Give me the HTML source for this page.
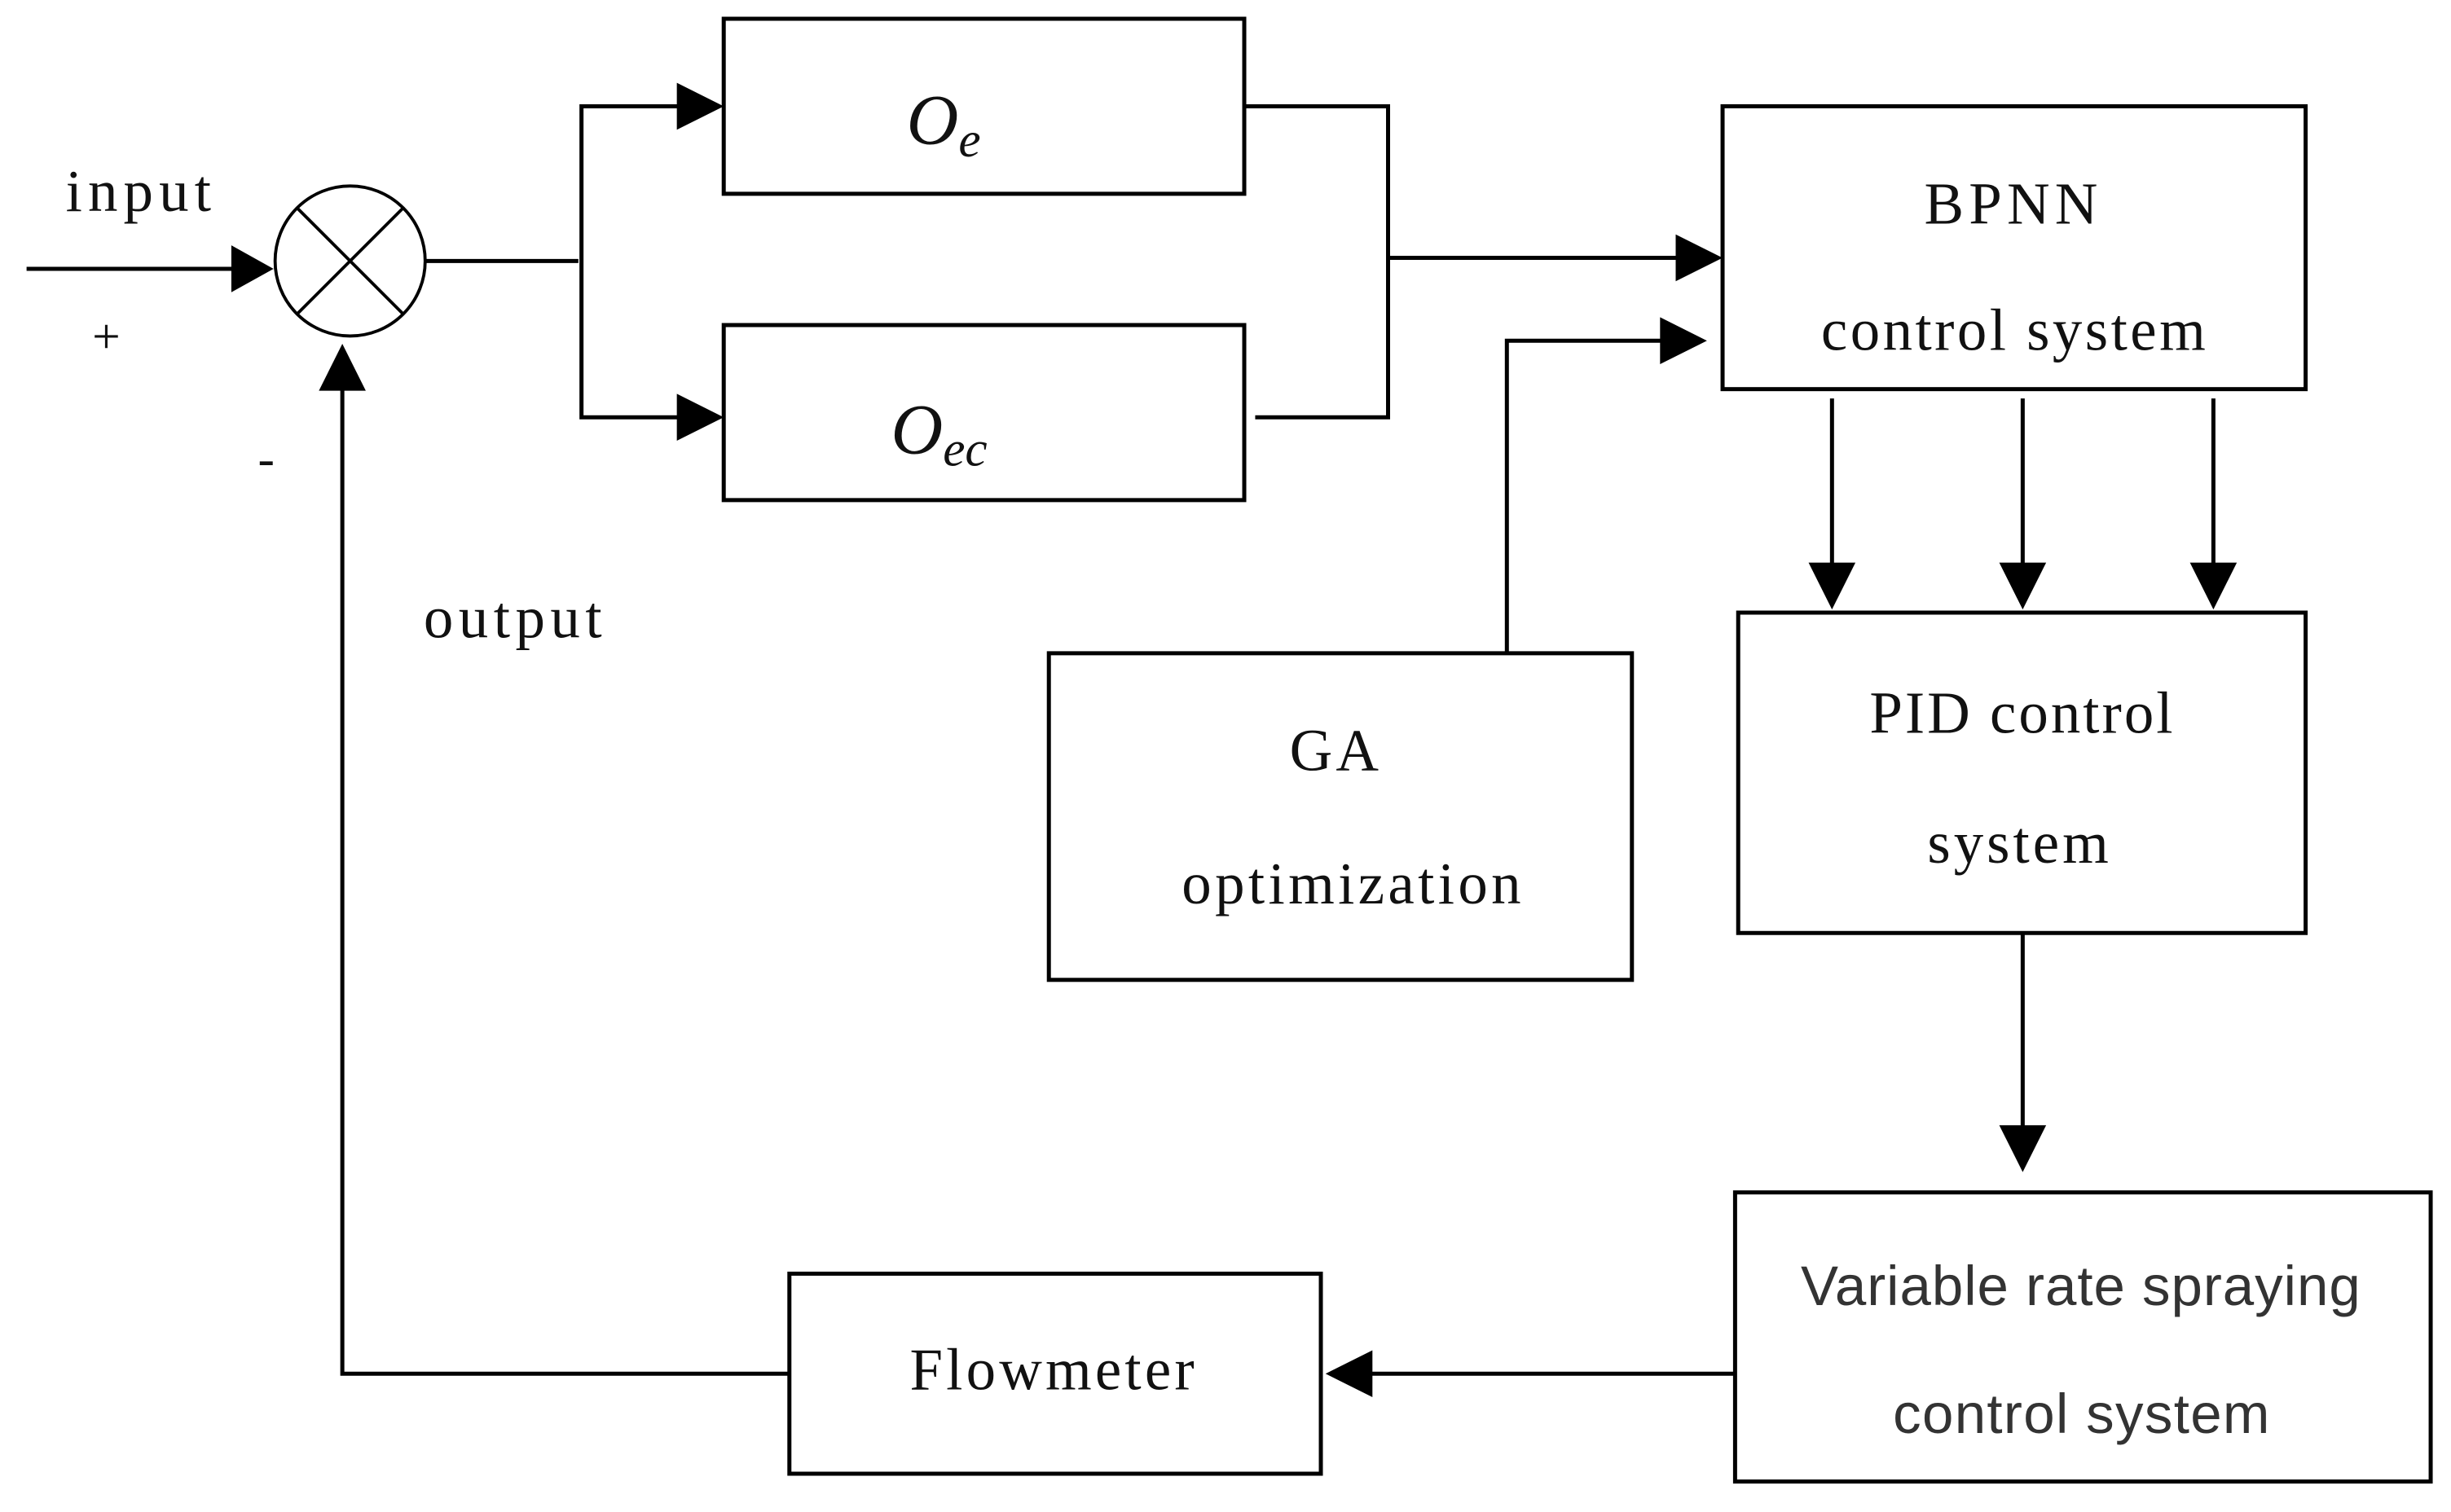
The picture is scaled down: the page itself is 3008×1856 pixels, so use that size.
<!DOCTYPE html>
<html><head><meta charset="utf-8"><style>html,body{margin:0;padding:0;background:#fff}svg{display:block}</style></head>
<body>
<svg width="3008" height="1856" viewBox="0 0 1568 967.5" preserveAspectRatio="none" xmlns="http://www.w3.org/2000/svg">
<g fill="none" stroke="#000" stroke-width="2.6">
<line x1="17" y1="172" x2="150" y2="172"/>
<ellipse cx="224" cy="167" rx="48" ry="48" stroke-width="2"/>
<line x1="190" y1="133" x2="258" y2="201" stroke-width="2"/>
<line x1="258" y1="133" x2="190" y2="201" stroke-width="2"/>
<polyline points="272,167 370,167"/>
<polyline points="435,68 372,68 372,267 435,267"/>
<rect x="463" y="12" width="333" height="112"/>
<rect x="463" y="208" width="333" height="112"/>
<polyline points="796,68 888,68 888,267 803,267"/>
<line x1="888" y1="165" x2="1075" y2="165"/>
<rect x="1102" y="68" width="373" height="181"/>
<polyline points="964,417 964,218 1065,218"/>
<rect x="671" y="418" width="373" height="209"/>
<line x1="1172" y1="255" x2="1172" y2="362"/>
<line x1="1294" y1="255" x2="1294" y2="362"/>
<line x1="1416" y1="255" x2="1416" y2="362"/>
<rect x="1112" y="392" width="363" height="205"/>
<line x1="1294" y1="597" x2="1294" y2="722"/>
<rect x="1110" y="763" width="445" height="185"/>
<line x1="1110" y1="879" x2="875" y2="879"/>
<rect x="505" y="815" width="340" height="128"/>
<polyline points="505,879 219,879 219,248"/>
</g>
<g fill="#000">
<polygon points="148,157 175,172 148,187"/>
<polygon points="433,53 463,68 433,83"/>
<polygon points="433,252 463,267 433,282"/>
<polygon points="1072,150 1102,165 1072,180"/>
<polygon points="1062,203 1092,218 1062,233"/>
<polygon points="1157,360 1187,360 1172,390"/>
<polygon points="1279,360 1309,360 1294,390"/>
<polygon points="1401,360 1431,360 1416,390"/>
<polygon points="1279,720 1309,720 1294,750"/>
<polygon points="878,864 878,894 848,879"/>
<polygon points="204,250 234,250 219,220"/>
</g>
<g font-family="Liberation Serif, serif" fill="#111" font-size="38">
<text x="42" y="135" textLength="93">input</text>
<text x="59" y="226" font-size="32">+</text>
<text x="165" y="304" font-size="32">-</text>
<text x="271" y="408" textLength="114">output</text>
<text x="1231" y="143" textLength="111">BPNN</text>
<text x="1165" y="224" textLength="246">control system</text>
<text x="825" y="493" textLength="57">GA</text>
<text x="756" y="578" textLength="217">optimization</text>
<text x="1196" y="469" textLength="194">PID control</text>
<text x="1233" y="552" textLength="116">system</text>
<text x="582" y="889" textLength="182">Flowmeter</text>
<text x="580" y="92" font-style="italic" font-size="46">O<tspan font-size="32" dy="8">e</tspan></text>
<text x="570" y="290" font-style="italic" font-size="46">O<tspan font-size="32" dy="8">ec</tspan></text>
</g>
<g font-family="Liberation Sans Narrow, Liberation Sans, sans-serif" fill="#333" font-size="36">
<text x="1152" y="835" textLength="358">Variable rate spraying</text>
<text x="1211" y="917" textLength="241">control system</text>
</g>
</svg>
</body></html>
